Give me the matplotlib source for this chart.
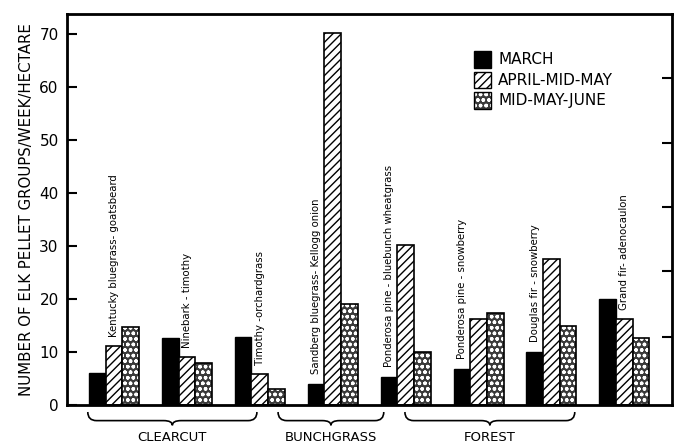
import matplotlib
matplotlib.use("Agg")
import matplotlib.pyplot as plt
import matplotlib.transforms as mtransforms
from matplotlib.path import Path
from matplotlib.patches import PathPatch, Patch
from matplotlib.legend_handler import HandlerTuple
import numpy as np

# data
communities = ["Kentucky bluegrass- goatsbeard", "Ninebark - timothy",
               "Timothy -orchardgrass", "Sandberg bluegrass- Kellogg onion",
               "Ponderosa pine - bluebunch wheatgrass", "Ponderosa pine - snowberry",
               "Douglas fir - snowberry", "Grand fir- adenocaulon"]
march = [6.0, 12.6, 12.8, 4.0, 5.3, 6.8, 10.0, 20.0]
april_midmay = [11.1, 9.0, 5.8, 70.2, 30.2, 16.2, 27.5, 16.2]
midmay_june = [14.7, 7.9, 3.0, 19.0, 10.0, 17.4, 14.9, 12.6]
series_names = ["MARCH", "APRIL-MID-MAY", "MID-MAY-JUNE"]
habitats = ["CLEARCUT", "BUNCHGRASS", "FOREST"]

# which bar each rotated label sits on (0 march, 1 april)
label_bar = [1, 1, 1, 0, 0, 0, 0, 1]
brace_spans = [(-0.36, 1.96), (2.25, 3.70), (3.99, 6.32)]

fig = plt.figure(figsize=(6.81, 4.46), dpi=100)
ax = fig.add_axes([0.0984, 0.092, 0.888, 0.877])

x = np.arange(len(communities))
w = 0.229

ax.bar(x - w, march, w, color="black", edgecolor="black", linewidth=1.0)
ax.bar(x, april_midmay, w, color="white", edgecolor="black", hatch="////", linewidth=1.2)
ax.bar(x + w, midmay_june, w, color="#3a3a3a", edgecolor="white", hatch="ooo", linewidth=0)
ax.bar(x + w, midmay_june, w, fill=False, edgecolor="black", linewidth=1.2)

series = [march, april_midmay, midmay_june]
for i, name in enumerate(communities):
    b = label_bar[i]
    ax.text(x[i] + (b - 1) * w, series[b][i] + 1.8, name, rotation=90,
            ha="center", va="bottom", fontsize=8.1, fontstretch="condensed")

ax.set_xlim(-0.645, 7.65)
ax.set_ylim(0, 73.8)
ax.set_xticks([])
ax.set_yticks(range(0, 71, 10))
ax.tick_params(axis="y", direction="in", length=7, width=1.5, labelsize=11, pad=6)
for s in ax.spines.values():
    s.set_linewidth(2)
ax.set_ylabel("NUMBER OF ELK PELLET GROUPS/WEEK/HECTARE", fontsize=10.8, labelpad=4)

ax2 = ax.twinx()
ax2.set_ylim(0, 73.8)
ax2.set_yticks([12.8, 25.2, 37.4, 49.4, 61.6])
ax2.tick_params(axis="y", direction="in", length=7, width=1.5, labelright=False)

# legend
h_march = Patch(facecolor="black", edgecolor="black")
h_april = Patch(facecolor="white", edgecolor="black", hatch="////")
h_june = (Patch(facecolor="#3a3a3a", edgecolor="white", hatch="ooo", linewidth=0),
          Patch(fill=False, edgecolor="black"))
ax.legend([h_march, h_april, h_june], series_names, loc="upper left",
          bbox_to_anchor=(0.65, 0.94), frameon=False, fontsize=11,
          handlelength=1.1, handleheight=1.3, labelspacing=0.25, handletextpad=0.5,
          handler_map={tuple: HandlerTuple(ndivide=1)})

# habitat braces below the axis
trans = mtransforms.blended_transform_factory(ax.transData, ax.transAxes)
y_top, y_mid, y_tip = -0.018, -0.040, -0.052
for (x0, x1), hab in zip(brace_spans, habitats):
    c = (x0 + x1) / 2
    r = 0.12
    verts = [(x0, y_top), (x0, y_mid), (x0 + r, y_mid),
             (c - r, y_mid), (c, y_mid), (c, y_tip),
             (c, y_mid), (c + r, y_mid),
             (x1 - r, y_mid), (x1, y_mid), (x1, y_top)]
    codes = [Path.MOVETO, Path.CURVE3, Path.CURVE3,
             Path.LINETO, Path.CURVE3, Path.CURVE3,
             Path.CURVE3, Path.CURVE3,
             Path.LINETO, Path.CURVE3, Path.CURVE3]
    ax.add_patch(PathPatch(Path(verts, codes), transform=trans, fill=False,
                           lw=1.2, clip_on=False))
    ax.text(c, -0.082, hab, transform=trans, ha="center", va="center", fontsize=9.5)

fig.savefig("out.png", dpi=100)
